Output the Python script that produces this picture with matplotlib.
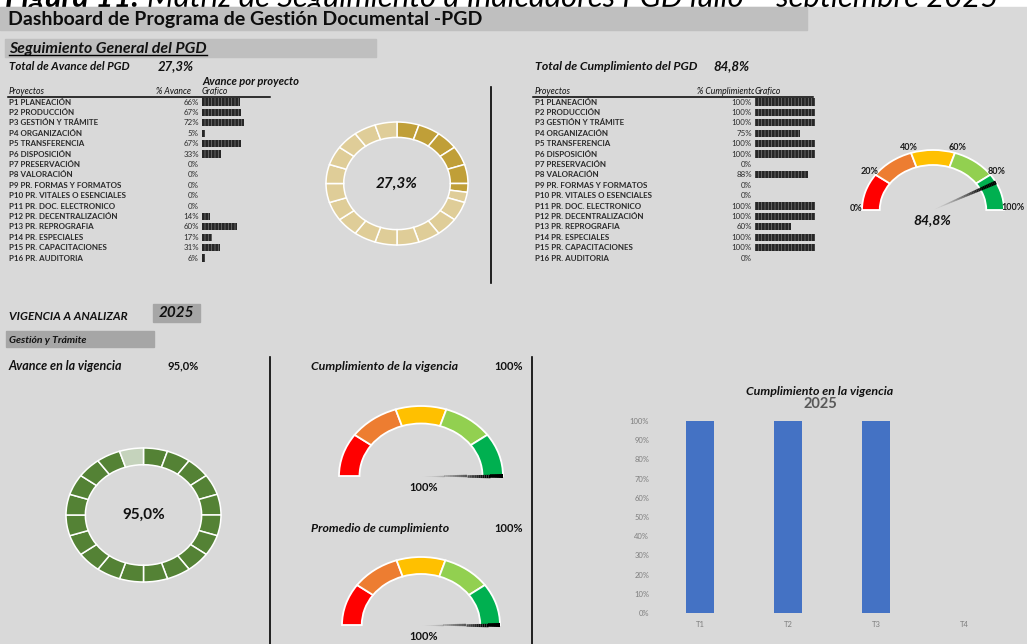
import numpy as np
import matplotlib
matplotlib.use("Agg")
import matplotlib.pyplot as plt
from matplotlib.patches import Rectangle
from matplotlib.collections import LineCollection

plt.rcParams['font.family'] = ['Lato', 'DejaVu Sans']
plt.rcParams['hatch.linewidth'] = 0.5

# ---------------- data ----------------
projects = ["P1 PLANEACIÓN", "P2 PRODUCCIÓN", "P3 GESTIÓN Y TRÁMITE", "P4 ORGANIZACIÓN",
            "P5 TRANSFERENCIA", "P6 DISPOSICIÓN", "P7 PRESERVACIÓN", "P8 VALORACIÓN",
            "P9 PR. FORMAS Y FORMATOS", "P10 PR. VITALES O ESENCIALES", "P11 PR. DOC. ELECTRONICO",
            "P12 PR. DECENTRALIZACIÓN", "P13 PR. REPROGRAFIA", "P14 PR. ESPECIALES",
            "P15 PR. CAPACITACIONES", "P16 PR. AUDITORIA"]
avance = [66, 67, 72, 5, 67, 33, 0, 0, 0, 0, 0, 14, 60, 17, 31, 6]
cumplimiento = [100, 100, 100, 75, 100, 100, 0, 88, 0, 0, 100, 100, 60, 100, 100, 0]
total_avance = 27.3
total_cumplimiento = 84.8
vigencia = "2025"
avance_vigencia = 95.0
cumplimiento_vigencia = 100
promedio_cumplimiento = 100
trimestres = ["T1", "T2", "T3", "T4"]
cumpl_trimestre = [1.0, 1.0, 1.0, 0.0]
gauge_ticks = [0, 20, 40, 60, 80, 100]
y_ticks = [0, 0.1, 0.2, 0.3, 0.4, 0.5, 0.6, 0.7, 0.8, 0.9, 1.0]

# ---------------- layout ----------------
W, H = 1027, 644
fig = plt.figure(figsize=(W / 100, H / 100), dpi=100, facecolor='white')
base = fig.add_axes([0, 0, 1, 1])
base.set_xlim(0, W)
base.set_ylim(H, 0)
base.axis('off')

BG = '#d9d9d9'
HDR = '#bfbfbf'


def pax(x0, y0, w, h):
    return fig.add_axes([x0 / W, 1 - (y0 + h) / H, w / W, h / H])


def fmt(v):
    return f"{v:.1f}%".replace('.', ',')


def txt(x, y, s, size, bold=True, italic=True, ha='left', color='#111111', z=2, **kw):
    return base.text(x, y, s, fontsize=size, fontweight='bold' if bold else 'normal',
                     fontstyle='italic' if italic else 'normal', ha=ha, va='center',
                     color=color, zorder=z, **kw)


base.add_patch(Rectangle((0, 7), W, H - 7, color=BG, zorder=0))

# top cut title
t1 = base.text(5, 7, "Figura 11.", fontsize=22.3, fontweight='bold', fontstyle='italic',
               va='baseline', ha='left', zorder=0.5, color='black')
fig.canvas.draw()
r = fig.canvas.get_renderer()
bb = t1.get_window_extent(r)
base.text(bb.x1 + 8, 7, "Matriz de Seguimiento a Indicadores PGD julio – septiembre 2025",
          fontsize=22.3, fontstyle='italic', va='baseline', ha='left', zorder=0.5, color='black')

# header bar
base.add_patch(Rectangle((0, 7), 807, 23, color=HDR, zorder=1))
txt(8, 19, "Dashboard de Programa de Gestión Documental -PGD", 14, italic=False, color='#0d0d0d')

# sub header
base.add_patch(Rectangle((5, 39), 371, 18, color=HDR, zorder=1))
txt(9, 48.5, "Seguimiento General del PGD", 11.4)
base.plot([9, 207], [55, 55], color='black', lw=1.0, zorder=2)

# ---------------- tables ----------------
row0 = 102
dy = 10.4


def table(x_lab, x_val, x_bar, bar_w, values, hdr_val, hdr_val_x, line_x0, line_x1):
    txt(x_lab, 91, "Proyectos", 6.3, bold=False)
    txt(hdr_val_x, 91, hdr_val, 6.2, bold=False)
    txt(x_bar, 91, "Grafico", 6.2, bold=False, z=3,
        bbox=dict(boxstyle='square,pad=0.1', fc=BG, ec='none'))
    base.plot([line_x0, line_x1], [96.5, 96.5], color='black', lw=1.1, zorder=2)
    for i, (p, v) in enumerate(zip(projects, values)):
        y = row0 + dy * i
        txt(x_lab, y, p, 5.8, italic=False, color='#2b2b2b')
        txt(x_val, y, f"{v}%", 5.7, bold=False, italic=False, ha='right', color='#2b2b2b')
    n = len(values)
    ax = pax(x_bar, row0 - dy / 2, bar_w, dy * n)
    ax.barh(range(n), values, height=0.7, color='#262626', edgecolor='#7a7a7a', linewidth=0,
            hatch='|||||')
    ax.set_xlim(0, 100)
    ax.set_ylim(n - 0.5, -0.5)
    ax.axis('off')


txt(9, 66, "Total de Avance del PGD", 8.3)
txt(158, 66, fmt(total_avance), 9.5)
txt(202, 81, "Avance por proyecto", 8)
table(9, 199, 202, 58, avance, "% Avance", 156, 8, 270)

txt(535, 66, "Total de Cumplimiento del PGD", 8.8)
txt(713, 66, fmt(total_cumplimiento), 9.5)
table(535, 752, 755, 60, cumplimiento, "% Cumplimiento", 697, 533, 813)

base.plot([491, 491], [87, 283], color='black', lw=1.2)


# ---------------- donuts ----------------
def donut(rect, value, dark, light, label, style):
    ax = pax(*rect)
    vals, cols = [], []
    for i in range(20):
        filled = min(max(value - 5 * i, 0), 5)
        if filled > 0:
            vals.append(filled)
            cols.append(dark)
        if 5 - filled > 1e-9:
            vals.append(5 - filled)
            cols.append(light)
    ax.pie(vals, colors=cols, startangle=90, counterclock=False, radius=1,
           wedgeprops=dict(width=0.25, edgecolor='white', linewidth=1.1))
    ax.set_aspect('auto')
    ax.set_xlim(-1, 1)
    ax.set_ylim(-1, 1)
    ax.axis('off')
    ax.text(0, 0, label, fontsize=11, fontweight='bold', fontstyle=style,
            ha='center', va='center', color='#111111')


donut((326, 122, 142, 123), total_avance, '#c09f38', '#dfcd98', fmt(total_avance), 'italic')
donut((66, 448, 155, 134), avance_vigencia, '#548235', '#c5d3bc', fmt(avance_vigencia), 'normal')

# ---------------- gauges ----------------
GCOLS = ['#ff0000', '#ed7d31', '#ffc000', '#92d050', '#00b050']


def gauge(rect, value, labels=False):
    ax = pax(*rect)
    segs = np.diff(gauge_ticks)
    vals = list(segs) + [sum(segs)]
    wedges, _ = ax.pie(vals, colors=GCOLS + ['none'], startangle=180, counterclock=False,
                       radius=1, wedgeprops=dict(width=0.25, edgecolor='white', linewidth=1.3))
    wedges[-1].set_visible(False)
    for w in wedges:
        w.set_clip_on(False)
    ax.set_aspect('auto')
    ax.set_xlim(-1, 1)
    ax.set_ylim(0, 1)
    ax.axis('off')
    # needle
    th = np.pi * (1 - value / 100)
    rr = np.linspace(0.0, 1.0, 40)
    pts = np.column_stack([rr * np.cos(th), rr * np.sin(th)])
    segsn = np.stack([pts[:-1], pts[1:]], axis=1)
    frac = rr[1:]
    lc = LineCollection(segsn, linewidths=0.3 + 2.6 * frac,
                        colors=[(0, 0, 0, min(1, f ** 1.5 * 1.4)) for f in frac],
                        capstyle='butt', clip_on=False, zorder=5)
    ax.add_collection(lc)
    if labels:
        for t in gauge_ticks:
            a = np.pi * (1 - t / 100)
            x, y = 1.1 * np.cos(a), 1.1 * np.sin(a)
            if t == 0:
                x, y = -1.08, 0.02
            if t == 100:
                x, y = 1.12, 0.05
            ax.text(x, y, f"{t}%", fontsize=6.5, fontweight='bold', ha='center', va='center',
                    color='#1a1a1a', clip_on=False)
    return ax


gauge((862, 150, 142, 60), total_cumplimiento, labels=True)
txt(932, 220, fmt(total_cumplimiento), 10, ha='center')

# ---------------- bottom section ----------------
txt(9, 316, "VIGENCIA A ANALIZAR", 8.5)
base.add_patch(Rectangle((153, 304), 47, 18, color='#a6a6a6', zorder=1))
txt(176, 313, vigencia, 11, ha='center')
base.add_patch(Rectangle((6, 331), 148, 16, color='#a6a6a6', zorder=1))
txt(9, 340, "Gestión y Trámite", 7.5)

txt(9, 366, "Avance en la vigencia", 9)
txt(168, 366, fmt(avance_vigencia), 8, italic=False)
base.plot([270, 270], [357, 644], color='black', lw=1.2)
base.plot([532, 532], [357, 644], color='black', lw=1.2)

txt(311, 366, "Cumplimiento de la vigencia", 8.9)
txt(494, 366, f"{cumplimiento_vigencia}%", 8, italic=False)
gauge((339, 406, 164, 70), cumplimiento_vigencia)
txt(424, 487, f"{cumplimiento_vigencia}%", 8, italic=False, ha='center')

txt(311, 529, "Promedio de cumplimiento", 8.8)
txt(494, 529, f"{promedio_cumplimiento}%", 8, italic=False)
gauge((342, 557, 158, 68), promedio_cumplimiento)
txt(424, 637, f"{promedio_cumplimiento}%", 8, italic=False, ha='center')

# ---------------- bar chart ----------------
txt(820, 391, "Cumplimiento en la vigencia", 8.9, ha='center')
txt(820, 404, vigencia, 10.5, italic=False, ha='center', color='#595959')
bx = pax(656, 421, 352, 192)
bx.set_facecolor('none')
bx.bar(range(len(trimestres)), cumpl_trimestre, width=0.31, color='#4472c4')
bx.set_xlim(-0.5, len(trimestres) - 0.5)
bx.set_ylim(0, 1)
bx.set_yticks(y_ticks)
bx.set_yticklabels([f"{int(round(v * 100))}%" for v in y_ticks])
bx.set_xticks(range(len(trimestres)))
bx.set_xticklabels(trimestres)
bx.tick_params(axis='both', length=0, labelsize=5.5, labelcolor='#7f7f7f')
bx.tick_params(axis='y', pad=5)
bx.tick_params(axis='x', pad=6)
for s in bx.spines.values():
    s.set_visible(False)

fig.savefig("out.png", dpi=100, facecolor='white')
